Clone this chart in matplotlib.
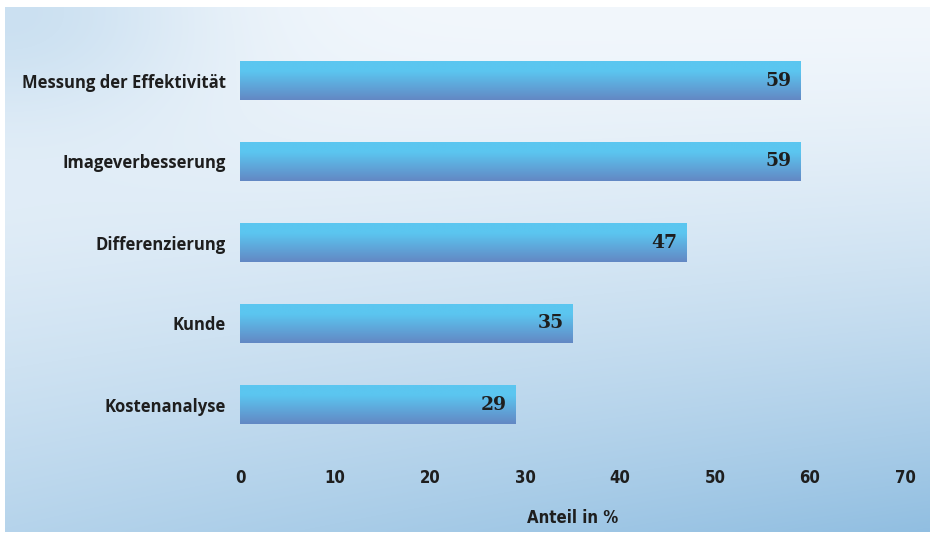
import numpy as np
import matplotlib.pyplot as plt
from matplotlib.colors import to_rgb

# data, bottom to top
categories = ["Kostenanalyse", "Kunde", "Differenzierung", "Imageverbesserung", "Messung der Effektivität"]
values = [29, 35, 47, 59, 59]
xticks = [0, 10, 20, 30, 40, 50, 60, 70]
xlabel = "Anteil in %"

W, H = 930, 534
fig = plt.figure(figsize=(W / 100, H / 100), dpi=100)
fig.patch.set_facecolor("white")

# background gradient panel
bg = fig.add_axes([5 / W, 1 - 532 / H, 924 / W, 525 / H], zorder=0)
u = np.linspace(0, 1, 300)[None, :]
v = np.linspace(0, 1, 200)[:, None]
d = 0.8 * v ** 1.4 * (0.7 + 0.42 * u) + 0.36 * np.exp(-(u ** 2 + v ** 2) / 0.05)
d = np.clip(d, 0, 1)[..., None]
light = np.array(to_rgb("#F2F7FC"))
dark = np.array(to_rgb("#86B8DE"))
img = light * (1 - d) + dark * d
bg.imshow(img, aspect="auto", extent=[0, 1, 0, 1], interpolation="bilinear")
bg.axis("off")

# main axes
ax = fig.add_axes([240 / W, 1 - 445 / H, 665 / W, 405 / H], zorder=1)
ax.set_facecolor("none")
y = np.arange(len(categories))
bars = ax.barh(y, values, height=0.48, color="none", edgecolor="none")
ax.set_xlim(0, 70)
ax.set_ylim(-0.5, len(categories) - 0.5)

# vertical gradient inside each bar
top = np.array(to_rgb("#5BC6F0"))
bot = np.array(to_rgb("#6388C4"))
t = np.linspace(0, 1, 64)[:, None]
t = np.clip((t - 0.25) / 0.75, 0, 1)
grad = top * (1 - t) + bot * t
grad = np.repeat(grad[:, None, :], 4, axis=1)
for b in bars:
    x0, y0 = b.get_x(), b.get_y()
    w, h = b.get_width(), b.get_height()
    im = ax.imshow(grad, extent=[x0, x0 + w, y0, y0 + h], aspect="auto",
                   origin="upper", interpolation="bilinear", zorder=2)
    im.set_clip_path(b)
    ax.annotate(str(b.get_width()), (x0 + w, y0 + h / 2), xytext=(-9, 0),
                textcoords="offset pixels", ha="right", va="center",
                fontsize=13.5, fontweight="bold", family="DejaVu Serif",
                color="#1e1e1e", zorder=3)

ax.set_yticks(y)
ax.set_yticklabels(categories, fontsize=12, fontweight="bold", family="Open Sans", color="#1e1e1e")
ax.set_xticks(xticks)
ax.set_xticklabels([str(v) for v in xticks], fontsize=12, fontweight="bold",
                   family="DejaVu Sans", stretch="condensed", color="#1e1e1e")
ax.tick_params(axis="y", length=0, pad=10)
ax.tick_params(axis="x", length=0, pad=17)
ax.set_xlabel(xlabel, fontsize=12, fontweight="bold", family="DejaVu Sans", stretch="condensed",
              color="#1e1e1e", labelpad=16)
for s in ax.spines.values():
    s.set_visible(False)

fig.savefig("out.png", dpi=100)
